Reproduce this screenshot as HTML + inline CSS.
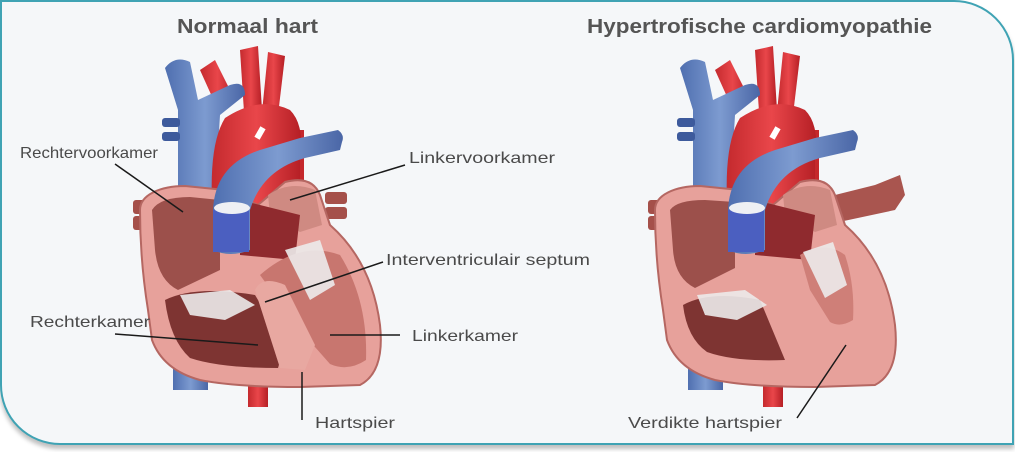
<!DOCTYPE html>
<html><head><meta charset="utf-8"><style>
html,body{margin:0;padding:0;background:#fff;}
body{width:1015px;height:452px;overflow:hidden;position:relative;font-family:"Liberation Sans",sans-serif;}
.frame{position:absolute;left:0;top:0;width:1010px;height:441px;background:#f5f7f9;border:2px solid #3fa3b4;border-radius:0 60px 0 60px;box-shadow:0 4px 4px rgba(0,0,0,0.25);}
svg{position:absolute;left:0;top:0;}
</style></head><body>
<div class="frame"></div>
<svg width="1015" height="452" viewBox="0 0 1015 452">
<defs>
<linearGradient id="blue" x1="0" x2="1"><stop offset="0" stop-color="#4f6fb0"/><stop offset="0.5" stop-color="#7d9bd0"/><stop offset="1" stop-color="#4a66a6"/></linearGradient>
<linearGradient id="red" x1="0" x2="1"><stop offset="0" stop-color="#c42a2e"/><stop offset="0.5" stop-color="#e9464a"/><stop offset="1" stop-color="#b51f25"/></linearGradient>
<g id="vessels">
  <rect x="133" y="200" width="16" height="14" rx="3" fill="#a5504a"/>
  <rect x="133" y="216" width="16" height="14" rx="3" fill="#a5504a"/>
  <rect x="173" y="330" width="35" height="60" fill="url(#blue)"/>
  <rect x="248" y="375" width="20" height="32" fill="url(#red)"/>
  <path d="M200,70 L215,60 L235,100 L218,110 Z" fill="url(#red)"/>
  <path d="M240,50 L258,46 L262,110 L244,112 Z" fill="url(#red)"/>
  <path d="M268,52 L285,56 L278,115 L262,112 Z" fill="url(#red)"/>
  <rect x="290" y="130" width="14" height="80" fill="#c5282c"/>
  <path d="M165,68 Q175,55 190,62 L198,100 L230,85 Q245,80 245,95 L220,115 L215,200 L178,200 L178,110 Z" fill="url(#blue)"/>
  <rect x="162" y="118" width="18" height="9" rx="3" fill="#3d5a9c"/>
  <rect x="162" y="132" width="18" height="9" rx="3" fill="#3d5a9c"/>
  <path d="M215,240 Q205,150 225,118 Q260,95 290,110 Q305,125 300,160 L300,240 Z" fill="url(#red)"/>
</g>
<g id="valvesPA">
  <path d="M213,210 Q215,165 260,150 L300,138 L338,130 Q345,135 342,142 L340,150 L305,158 Q262,170 250,210 L250,250 Q230,258 213,250 Z" fill="url(#blue)"/>
  <rect x="213" y="210" width="36" height="42" fill="#4b5fc0"/>
  <rect x="257" y="127" width="6" height="12" fill="#fff" transform="rotate(30 260 133)"/>
  <ellipse cx="232" cy="208" rx="18" ry="6" fill="#eef0f4"/>
</g>
</defs>

<use href="#vessels"/>
<rect x="325" y="192" width="22" height="12" rx="3" fill="#a5504a"/>
<rect x="325" y="207" width="22" height="12" rx="3" fill="#a5504a"/>
<path d="M140,210 C140,195 160,186 185,186 L225,190 L258,205 L285,182 Q312,175 320,195 L330,225 Q372,262 380,325 Q385,372 360,385 L300,387 Q235,387 200,380 Q163,370 152,340 L148,310 Q140,260 140,210 Z" fill="#e7a19b" stroke="#b56762" stroke-width="2"/>
<path d="M152,210 Q160,197 190,197 L220,200 L220,270 L178,290 Q158,280 155,250 Z" fill="#9c504b"/>
<path d="M268,195 Q290,180 315,190 L322,225 L300,232 L270,215 Z" fill="#cf8a82"/>
<path d="M240,200 L300,215 L295,260 L240,255 Z" fill="#8f2a2e"/>
<path d="M165,300 Q195,285 255,295 L285,345 L278,368 Q220,368 190,358 Q170,340 165,300 Z" fill="#7e3432"/>
<path d="M260,275 Q300,240 340,255 Q368,300 366,360 Q348,372 330,364 L300,330 Z" fill="#c8766f"/>
<path d="M255,290 Q262,275 285,285 L315,345 L305,370 L280,368 Z" fill="#e8a8a1"/>
<path d="M180,295 L230,290 L255,305 L225,320 L190,315 Z" fill="#eceaea" opacity="0.9"/>
<path d="M285,250 L320,240 L335,285 L310,300 Z" fill="#ecebeb" opacity="0.9"/>
<use href="#valvesPA"/>

<g transform="translate(515,0)">
<use href="#vessels"/>
<path d="M300,200 L360,185 L385,175 L390,195 L380,210 L310,225 Z" fill="#a9554f"/>
<path d="M140,210 C140,195 160,186 185,186 L225,190 L258,205 L285,182 Q312,175 320,195 L330,225 Q372,262 380,325 Q385,372 360,385 L300,387 Q235,387 200,380 Q163,370 152,340 L148,310 Q140,260 140,210 Z" fill="#e7a19b" stroke="#b56762" stroke-width="2"/>
<path d="M155,210 Q162,200 190,200 L220,202 L220,268 L180,288 Q160,278 158,250 Z" fill="#9c504b"/>
<path d="M268,195 Q290,180 315,190 L322,225 L300,232 L270,215 Z" fill="#cf8a82"/>
<path d="M240,200 L300,215 L295,260 L240,255 Z" fill="#8f2a2e"/>
<path d="M168,305 Q195,290 245,300 L270,360 Q220,362 192,352 Q172,338 168,305 Z" fill="#7e3432"/>
<path d="M285,255 Q310,240 330,255 Q340,285 338,320 Q325,328 315,322 L295,290 Z" fill="#cf7f78"/>
<path d="M182,295 L230,290 L252,305 L222,320 L190,315 Z" fill="#eceaea" opacity="0.9"/>
<path d="M288,252 L318,242 L332,285 L310,298 Z" fill="#ecebeb" opacity="0.9"/>
<use href="#valvesPA"/>
</g>

<g stroke="#1a1a1a" stroke-width="1.5" fill="none">
<line x1="115" y1="164" x2="183" y2="212"/>
<line x1="405" y1="165" x2="290" y2="200"/>
<line x1="383" y1="262" x2="265" y2="302"/>
<line x1="115" y1="334" x2="258" y2="345"/>
<line x1="330" y1="335" x2="400" y2="335"/>
<line x1="302" y1="372" x2="302" y2="420"/>
<line x1="797" y1="418" x2="846" y2="345"/>
</g>

<g font-family="Liberation Sans, sans-serif" fill="#555">
<text x="177" y="33" font-size="20" font-weight="bold" textLength="141" lengthAdjust="spacingAndGlyphs">Normaal hart</text>
<text x="587" y="33" font-size="20" font-weight="bold" textLength="345" lengthAdjust="spacingAndGlyphs">Hypertrofische cardiomyopathie</text>
</g>
<g font-family="Liberation Sans, sans-serif" fill="#4a4a4a" font-size="16">
<text x="20" y="158" textLength="138" lengthAdjust="spacingAndGlyphs">Rechtervoorkamer</text>
<text x="409" y="163" textLength="146" lengthAdjust="spacingAndGlyphs">Linkervoorkamer</text>
<text x="386" y="265" textLength="204" lengthAdjust="spacingAndGlyphs">Interventriculair septum</text>
<text x="30" y="327" textLength="120" lengthAdjust="spacingAndGlyphs">Rechterkamer</text>
<text x="412" y="341" textLength="106" lengthAdjust="spacingAndGlyphs">Linkerkamer</text>
<text x="315" y="428" textLength="80" lengthAdjust="spacingAndGlyphs">Hartspier</text>
<text x="628" y="428" textLength="154" lengthAdjust="spacingAndGlyphs">Verdikte hartspier</text>
</g>
</svg>
</body></html>
